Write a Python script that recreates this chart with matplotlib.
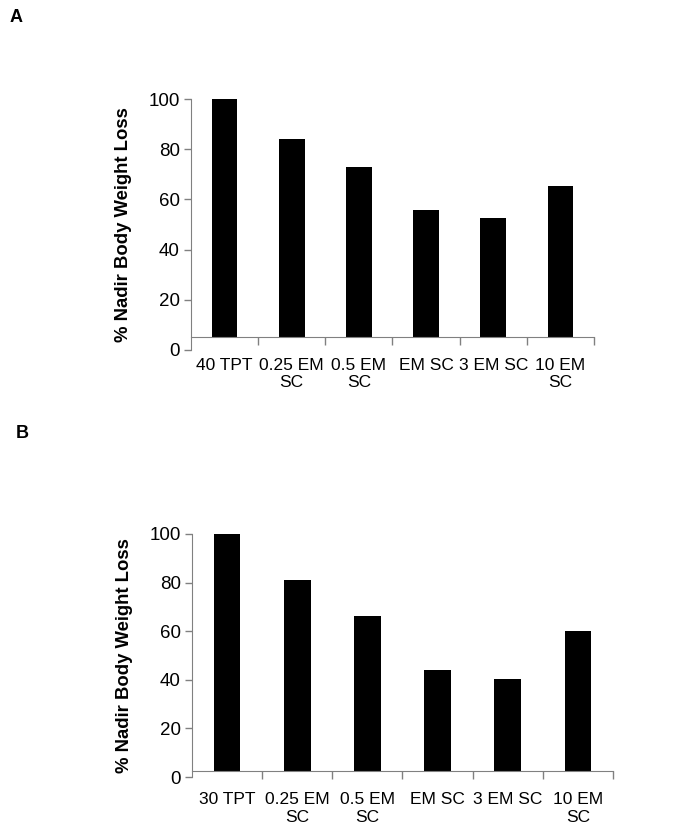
import matplotlib
matplotlib.use("Agg")
import matplotlib.pyplot as plt
import numpy as np

plt.rcParams['font.family'] = ['Liberation Sans', 'DejaVu Sans']

categories_a = ["40 TPT", "0.25 EM\nSC", "0.5 EM\nSC", "EM SC", "3 EM SC", "10 EM\nSC"]
values_a = [100, 84.2, 72.8, 55.8, 52.7, 65.5]
categories_b = ["30 TPT", "0.25 EM\nSC", "0.5 EM\nSC", "EM SC", "3 EM SC", "10 EM\nSC"]
values_b = [100, 81.0, 66.3, 44.0, 40.3, 60.2]
yticks = [0, 20, 40, 60, 80, 100]
ylabel = "% Nadir Body Weight Loss"

W, H = 696, 836
fig = plt.figure(figsize=(W / 100, H / 100), dpi=100)

def px_axes(left, right, top, bottom):
    return fig.add_axes([left / W, 1 - bottom / H, (right - left) / W, (bottom - top) / H])

def draw(ax, cats, vals, base):
    x = np.arange(len(cats))
    vals = np.asarray(vals, dtype=float)
    ax.bar(x, vals - base, bottom=base, width=0.38, color='black', zorder=2)
    ax.set_xlim(-0.5, len(cats) - 0.5)
    ax.set_ylim(0, 100)
    ax.set_yticks(yticks)
    ax.set_xticks(x)
    ax.set_xticks(np.arange(len(cats)) + 0.5, minor=True)
    ax.tick_params(axis='x', which='major', length=0, pad=15, labelsize=12.5)
    ax.tick_params(axis='x', which='minor', length=6, color='#808080', width=1)
    ax.tick_params(axis='y', length=5, color='#808080', width=1, labelsize=13.5, pad=3)
    ax.set_xticklabels(cats, fontsize=12.5, linespacing=1.15)
    for s in ['top', 'right']:
        ax.spines[s].set_visible(False)
    ax.spines['bottom'].set_position(('data', base))
    ax.spines['bottom'].set_color('#808080')
    ax.spines['left'].set_color('#808080')
    ax.spines['left'].set_bounds(0, 100)
    ax.set_ylabel(ylabel, fontsize=13.3, fontweight='bold', labelpad=12)

ax1 = px_axes(191, 594, 99, 350)
draw(ax1, categories_a, values_a, 5.2)
ax2 = px_axes(192, 613, 534, 777)
draw(ax2, categories_b, values_b, 2.3)

fig.text(10 / W, 1 - 18 / H, "A", fontsize=13, fontweight='bold', va='center', ha='left')
fig.text(16 / W, 1 - 434 / H, "B", fontsize=13, fontweight='bold', va='center', ha='left')

fig.savefig("out.png", dpi=100, facecolor='white')
